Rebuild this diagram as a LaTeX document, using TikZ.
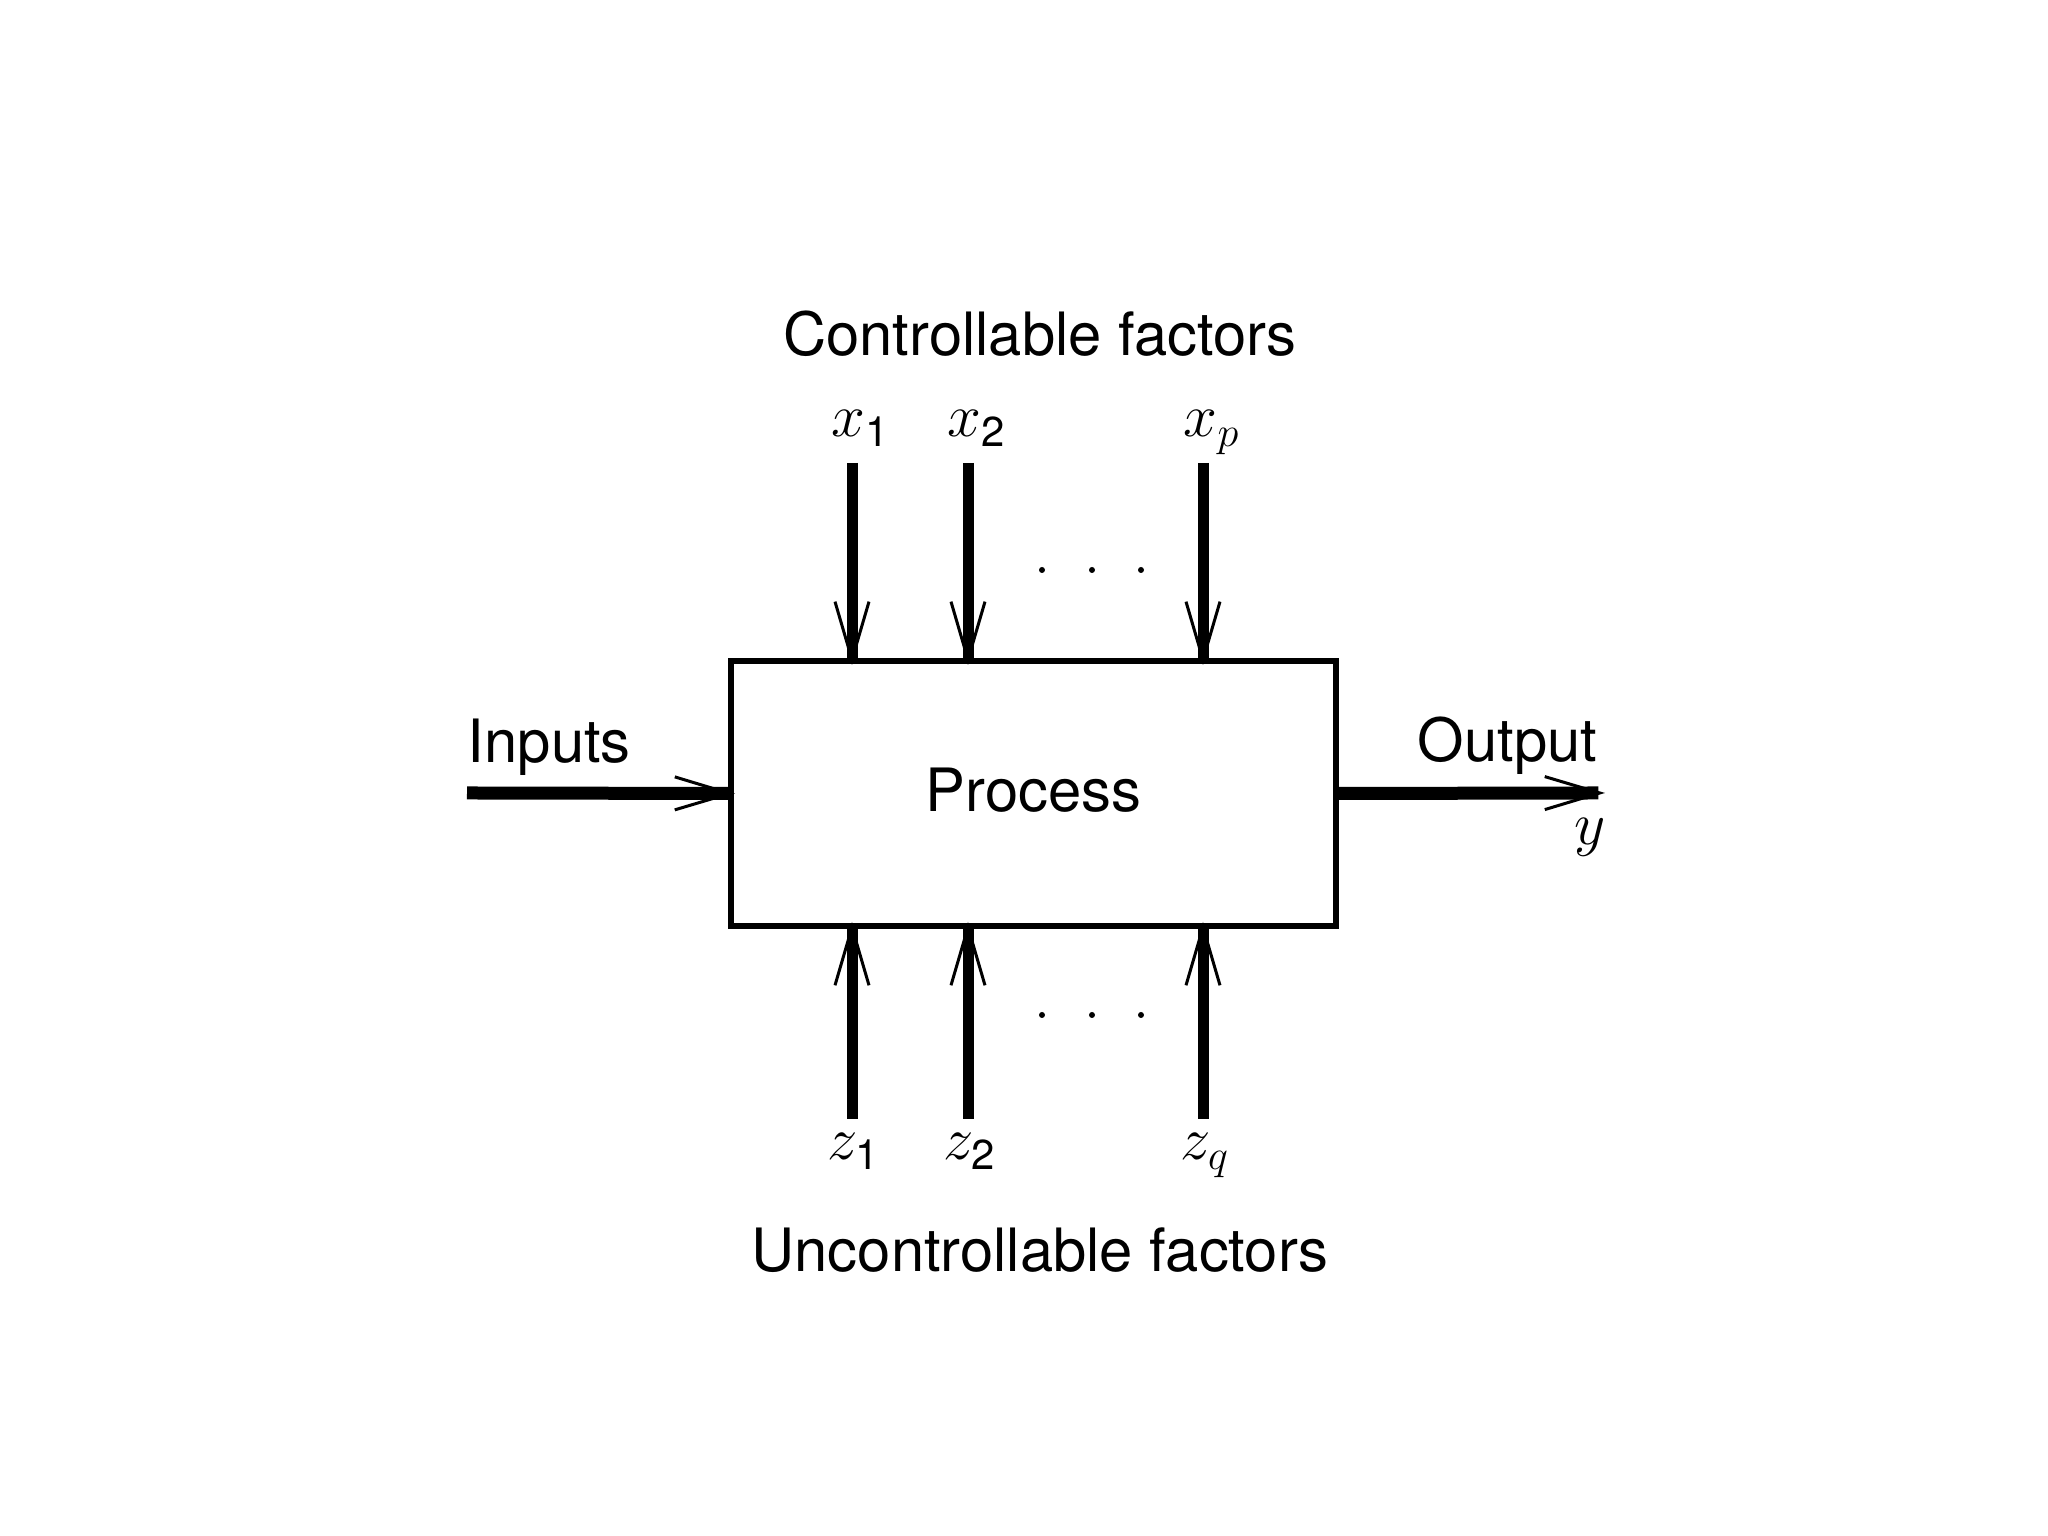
\documentclass[tikz,border=0pt]{standalone}
\usepackage{fontspec}
\setmainfont{TeX Gyre Heros}
\setsansfont{TeX Gyre Heros}
\usetikzlibrary{arrows.meta}

\begin{document}
\begin{tikzpicture}[font=\fontsize{17}{20}\selectfont,
    factor/.style={line width=1.1mm,shorten >=-0.7mm,-{Straight Barb[length=5.8mm,width=3.4mm,line width=0.3mm]}},
    flow/.style={line width=1.3mm,shorten >=-0.7mm,-{Straight Barb[length=5.5mm,width=3.3mm,line width=0.3mm]}},
    sym/.style={inner sep=0pt,anchor=base}]
    \useasboundingbox (0,0) rectangle (20.48,15.36);
    \node[draw,line width=0.6mm,minimum width=6.05cm,minimum height=2.65cm] (proc) at (10.335,7.425) {\raisebox{0.7mm}{Process}};
    % controllable and uncontrollable factors
    \coordinate (x1) at (8.52,10.73);
    \coordinate (x2) at (9.68,10.73);
    \coordinate (xp) at (12.03,10.73);
    \coordinate (z1) at (8.52,4.17);
    \coordinate (z2) at (9.68,4.17);
    \coordinate (zq) at (12.03,4.17);
    \foreach \v in {x1,x2,xp}
        {\draw[factor] (\v) -- (\v |- proc.north);
        }
    \foreach \v in {z1,z2,zq}
        {\draw[factor] (\v) -- (\v |- proc.south);
        }
    \foreach \x in {10.42,10.92,11.41}
        {\fill (\x,9.66) circle (0.03);
        \fill (\x,5.21) circle (0.03);
        }
    \node[sym] (lx1) at ([shift={(0.09,0.26)}]x1) {$x_{\mathsf{1}}$};
    \node[sym] (lx2) at ([shift={(0.09,0.26)}]x2) {$x_{\mathsf{2}}$};
    \node[sym] (lxp) at ([shift={(0.09,0.26)}]xp) {$x_p$};
    \node[sym] (lz1) at ([shift={(0.02,-0.41)}]z1) {$z_{\mathsf{1}}$};
    \node[sym] (lz2) at ([shift={(0.02,-0.41)}]z2) {$z_{\mathsf{2}}$};
    \node[sym] (lzq) at ([shift={(0.02,-0.41)}]zq) {$z_q$};
    \node (ctrl) at (10.40,12.02) {Controllable factors};
    \node (unctrl) at (10.40,2.86) {Uncontrollable factors};
    % inputs and output
    \coordinate (in) at (4.67,7.43);
    \coordinate (out) at (15.98,7.43);
    \draw[flow] (in) -- (proc.west);
    \draw[flow] (proc.east) -- (out);
    \node[sym,anchor=base west] (inlab) at ([yshift=3mm]in) {Inputs};
    \node[sym,anchor=base east] (outlab) at ([yshift=3.1mm]out) {Output};
    \node[sym,anchor=base east] (ylab) at ([shift={(0.08,-0.52)}]out) {$y$};
\end{tikzpicture}
\end{document}
